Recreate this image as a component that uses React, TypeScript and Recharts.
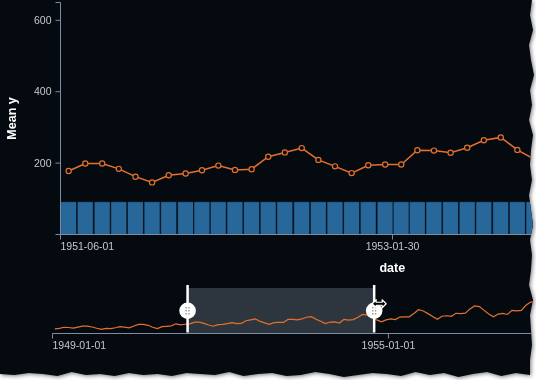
import React from 'react';
import { ComposedChart, LineChart, Line, Bar, XAxis, YAxis, ReferenceArea, ReferenceLine } from 'recharts';

// ---------- data ----------
const FIRST_YEAR = 1949;
const passengers = [
  112, 118, 132, 129, 121, 135, 148, 148, 136, 119, 104, 118,
  115, 126, 141, 135, 125, 149, 170, 170, 158, 133, 114, 140,
  145, 150, 178, 163, 172, 178, 199, 199, 184, 162, 146, 166,
  171, 180, 193, 181, 183, 218, 230, 242, 209, 191, 172, 194,
  196, 196, 236, 235, 229, 243, 264, 272, 237, 211, 180, 201,
  204, 188, 235, 227, 234, 264, 302, 293, 259, 229, 203, 229,
  242, 233, 267, 269, 270, 315, 364, 347, 312, 274, 237, 278,
  284, 277, 317, 313, 318, 374, 413, 405, 355, 306, 271, 306,
  315, 301, 356, 348, 355, 422, 465, 467, 404, 347, 305, 336,
  340, 318, 362, 348, 363, 435, 491, 505, 404, 359, 310, 337,
  360, 342, 406, 396, 420, 472, 548, 559, 463, 407, 362, 405,
  417, 391, 419, 461, 472, 535, 622, 606, 508, 461, 390, 432,
];
const barLevel = 92;

const detailStart = '1951-06-01';
const detailEnd = '1954-09-30';
const detailTicks = ['1951-06-01', '1953-01-30'];
const overviewStart = '1949-01-01';
const overviewEnd = '1961-01-01';
const overviewTicks = ['1949-01-01', '1955-01-01'];
const yTicks = [0, 200, 400, 600, 650];
const yDomain = [0, 650];
const yLabelled = [200, 400, 600];
const overviewYDomain = [50, 650];

// ---------- helpers ----------
const ts = (s: string) => Date.parse(s + 'T00:00:00Z');
const fmt = (v: number) => new Date(v).toISOString().slice(0, 10);

const allData = passengers.map((v, i) => {
  const y = FIRST_YEAR + Math.floor(i / 12);
  const m = i % 12;
  const s = Date.UTC(y, m, 1);
  const e = Date.UTC(y, m + 1, 1);
  return { t: (s + e) / 2, start: s, value: v, bar: barLevel };
});
const detailData = allData.filter((d) => d.start >= ts(detailStart) && d.start < ts(detailEnd));

// ---------- styles ----------
const BG = '#050a11';
const AXIS = '#7d8ca0';
const LABEL = '#c4c8cc';
const ORANGE = '#e5702b';
const BLUE = '#27679a';
const FONT = '"Liberation Sans", Arial, Helvetica, sans-serif';

const makeXTick = (tickList: string[], domainStart: string) => (props: any) => {
  const { x, y, payload } = props;
  const v = payload.value;
  const anchor = Math.abs(v - ts(domainStart)) < 1e6 ? 'start' : 'middle';
  const idx = tickList.findIndex((s) => Math.abs(ts(s) - v) < 1e6);
  const text = idx >= 0 ? tickList[idx] : fmt(v);
  return (
    <text x={x} y={y} dy="0.71em" textAnchor={anchor} fill={LABEL} fontSize={10.5} fontFamily={FONT}>
      {text}
    </text>
  );
};

const YTick = (props: any) => {
  const { x, y, payload } = props;
  if (!yLabelled.includes(payload.value)) return <g />;
  return (
    <text x={x} y={y} dy="0.35em" textAnchor="end" fill={LABEL} fontSize={10.5} fontFamily={FONT}>
      {payload.value}
    </text>
  );
};

const Handle = (arrow: boolean) => (p: any) => {
  const x = p.x1;
  const top = Math.min(p.y1, p.y2);
  const bottom = Math.max(p.y1, p.y2);
  const cy = (top + bottom) / 2;
  const dots = [-1.4, 1.4].flatMap((dx) => [-3, 0, 3].map((dy) => [dx, dy]));
  return (
    <g>
      <line x1={x} x2={x} y1={top - 3} y2={bottom - 1} stroke="#ffffff" strokeWidth={2.5} />
      <circle cx={x} cy={cy} r={8.3} fill="#ffffff" />
      {dots.map(([dx, dy], i) => (
        <rect key={i} x={x + dx - 0.7} y={cy + dy - 0.7} width={1.4} height={1.4} fill="#8a8f94" />
      ))}
      {arrow ? (
        <path
          d={`M ${x - 2} ${cy - 7} l 4 -4 v 2.5 h 6 v -2.5 l 4 4 l -4 4 v -2.5 h -6 v 2.5 z`}
          fill="#000" stroke="#fff" strokeWidth={1.2} strokeLinejoin="round" />
      ) : null}
    </g>
  );
};

// torn edge decoration
const rightJitter = [532, 530, 533, 529, 531, 534, 530, 532, 529, 533, 531, 530, 532, 529, 531, 533, 530, 532, 531, 529, 533, 530, 531, 532, 530];
const bottomJitter = [375, 373, 376, 372, 374, 377, 373, 375, 372, 376, 374, 373, 375, 377, 374, 372, 375, 376, 373, 374, 376, 372, 375, 374, 373, 376, 374, 375, 373, 376, 374, 375, 372, 376, 374, 373, 375, 374];
const tornPolygon = () => {
  const pts: string[] = ['0px 0px'];
  rightJitter.forEach((x, i) => pts.push(`${x}px ${i * 15}px`));
  const n = bottomJitter.length;
  bottomJitter.forEach((y, i) => pts.push(`${530 - (i * 530) / (n - 1)}px ${y}px`));
  return `polygon(${pts.join(', ')})`;
};

export default function App() {
  return (
    <div style={{ position: 'absolute', left: 0, top: 0, width: 536, height: 380, filter: 'drop-shadow(1px 1px 2px rgba(0,0,0,0.55))' }}>
      <div style={{ position: 'relative', width: 536, height: 380, background: BG, overflow: 'hidden', clipPath: tornPolygon() }}>
        <div style={{ position: 'absolute', left: 0, top: 0 }}>
          <ComposedChart width={760} height={280} data={detailData}
            margin={{ top: 2.5, right: 36, left: 0.5, bottom: 0.5 }} barCategoryGap={0} barGap={0}
            style={{ fontFamily: FONT }}>
            <XAxis type="number" dataKey="t" domain={[ts(detailStart), ts(detailEnd)]} allowDataOverflow
              ticks={detailTicks.map(ts)} interval={0} height={45} tickSize={5} tickMargin={3}
              stroke={AXIS} tickLine={{ stroke: AXIS }} axisLine={{ stroke: AXIS }}
              tick={makeXTick(detailTicks, detailStart)}
              label={{
                content: (lp: any) => {
                  const vb = lp.viewBox || {};
                  return (
                    <text x={vb.x + vb.width / 2} y={vb.y + 37} textAnchor="middle" fill="#ffffff"
                      fontWeight="bold" fontSize={12.5} fontFamily={FONT}>date</text>
                  );
                },
              }} />
            <YAxis type="number" domain={yDomain} ticks={yTicks} interval={0} width={60} tickSize={5} tickMargin={4}
              allowDataOverflow stroke={AXIS} tickLine={{ stroke: AXIS }} axisLine={{ stroke: AXIS }} tick={<YTick />}
              label={{
                content: (lp: any) => {
                  const vb = lp.viewBox || {};
                  const cx = 16;
                  const cy = vb.y + vb.height / 2;
                  return (
                    <text x={cx} y={cy} transform={`rotate(-90 ${cx} ${cy})`} textAnchor="middle" fill="#ffffff"
                      fontWeight="bold" fontSize={12.5} fontFamily={FONT}>Mean y</text>
                  );
                },
              }} />
            <Bar dataKey="bar" fill={BLUE} stroke={BG} strokeWidth={0.6} isAnimationActive={false} />
            <Line type="linear" dataKey="value" stroke={ORANGE} strokeWidth={1.5}
              dot={{ r: 2.6, stroke: ORANGE, strokeWidth: 1.2, fill: BG }} isAnimationActive={false} />
          </ComposedChart>
        </div>
        <div style={{ position: 'absolute', left: 0, top: 282 }}>
          <LineChart width={760} height={82} data={allData}
            margin={{ top: 6, right: 35.5, left: 52.5, bottom: 0.5 }} style={{ fontFamily: FONT }}>
            <XAxis type="number" dataKey="t" domain={[ts(overviewStart), ts(overviewEnd)]} allowDataOverflow
              ticks={overviewTicks.map(ts)} interval={0} height={30} tickSize={5} tickMargin={3}
              stroke={AXIS} tickLine={{ stroke: AXIS }} axisLine={{ stroke: AXIS }}
              tick={makeXTick(overviewTicks, overviewStart)} />
            <YAxis type="number" domain={overviewYDomain} hide width={0} allowDataOverflow />
            <ReferenceArea x1={ts(detailStart)} x2={ts(detailEnd)} fill="#8ca0aa" fillOpacity={0.3} stroke="none" />
            <Line type="linear" dataKey="value" stroke={ORANGE} strokeWidth={1.2} dot={false} isAnimationActive={false} />
            <ReferenceLine x={ts(detailStart)} shape={Handle(false)} />
            <ReferenceLine x={ts(detailEnd)} shape={Handle(true)} />
          </LineChart>
        </div>
      </div>
    </div>
  );
}
